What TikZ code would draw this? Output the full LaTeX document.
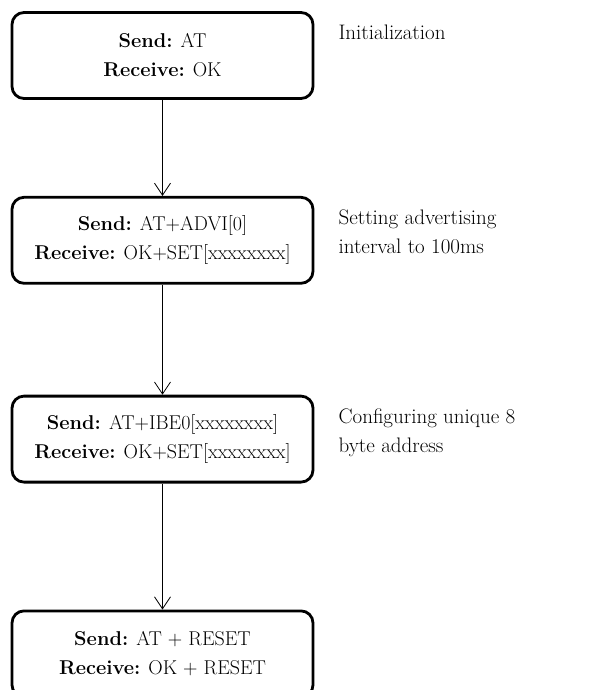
\documentclass[tikz,border=0pt]{standalone}
\usepackage{tikz}
\usetikzlibrary{arrows.meta}
\usetikzlibrary{positioning}

\begin{document}
\begin{tikzpicture}[x=1pt, y=1pt, font=\fontsize{21}{29}\selectfont,
  stepbox/.style={draw, line width=2.8pt, rounded corners=12pt, minimum width=301pt,
    minimum height=86pt, align=center, inner sep=0pt, font=\fontsize{20}{29}\selectfont},
  note/.style={anchor=north west, align=left, inner sep=0pt},
  flow/.style={-{Straight Barb[length=12pt, width=16pt]}, line width=0.8pt}]
  \useasboundingbox (0,0) rectangle (592,-690);

  % the four AT command steps
  \node[stepbox] (init) at (162.5,-55.5) {\textbf{Send:} AT\\ \textbf{Receive:} OK};
  \node[stepbox, below=96pt of init] (advi) {\textbf{Send:} AT+ADVI[0]\\ \textbf{Receive:} OK+SET[xxxxxxxx]};
  \node[stepbox, below=110pt of advi] (ibe) {\textbf{Send:} AT+IBE0[xxxxxxxx]\\ \textbf{Receive:} OK+SET[xxxxxxxx]};
  \node[stepbox, below=126pt of ibe] (reset) {\textbf{Send:} AT + RESET\\ \textbf{Receive:} OK + RESET};

  % notes on the right
  \node[note] (initnote) at ([xshift=24pt, yshift=-14pt]init.north east) {Initialization};
  \node[note] (advinote) at ([xshift=24pt, yshift=-14pt]advi.north east) {Setting advertising\\ interval to 100ms};
  \node[note] (ibenote) at ([xshift=24pt, yshift=-14pt]ibe.north east) {Configuring unique 8\\ byte address};

  \draw[flow] (init) -- (advi);
  \draw[flow] (advi) -- (ibe);
  \draw[flow] (ibe) -- (reset);
\end{tikzpicture}
\end{document}
